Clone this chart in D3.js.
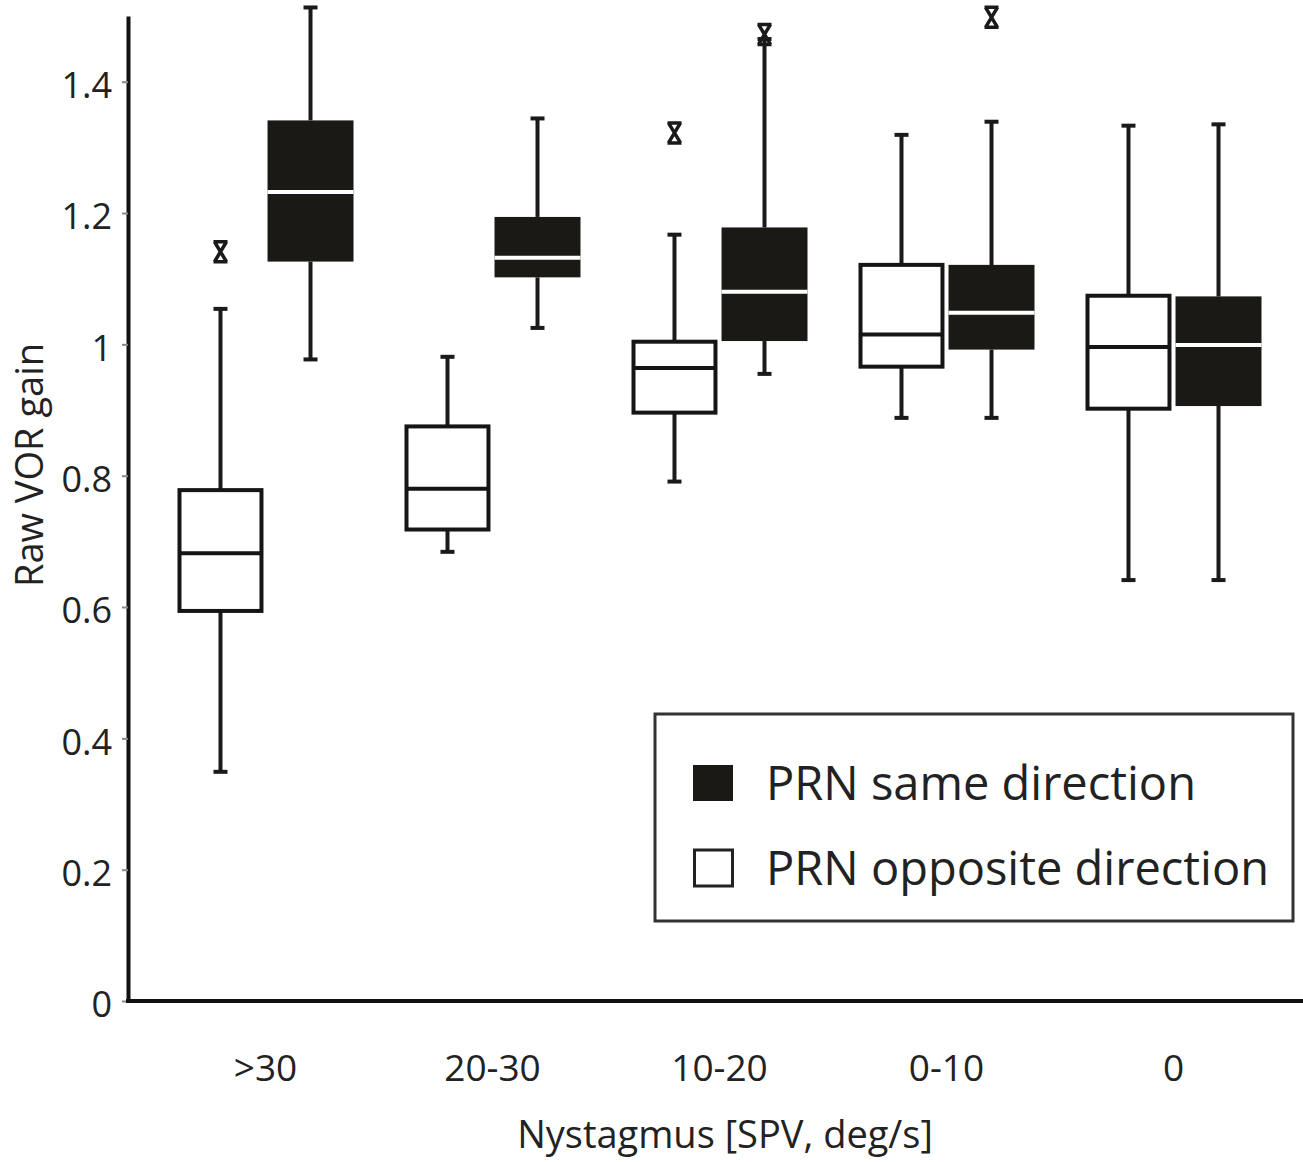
<!DOCTYPE html>
<html><head><meta charset="utf-8">
<script src="https://cdn.jsdelivr.net/npm/d3@7"></script>
<style>
body{margin:0;background:#fff}
text{font-family:"Open Sans",sans-serif;fill:#222}
</style>
</head><body>
<svg id="chart" width="1303" height="1162"></svg>
<script>
// ---- data ----
const groups = [">30", "20-30", "10-20", "0-10", "0"];
const seriesKeys = ["opposite", "same"];
const seriesLabels = ["PRN same direction", "PRN opposite direction"];

// PRN opposite direction (white boxes)
const oppLow    = [0.349, 0.684, 0.791, 0.888, 0.641];
const oppQ1     = [0.594, 0.718, 0.896, 0.966, 0.902];
const oppMedian = [0.682, 0.780, 0.964, 1.015, 0.996];
const oppQ3     = [0.778, 0.875, 1.004, 1.121, 1.074];
const oppHigh   = [1.054, 0.981, 1.167, 1.319, 1.333];
const oppOutliers = [[1.141], [], [1.322], [], []];

// PRN same direction (black boxes)
const sameLow    = [0.977, 1.025, 0.955, 0.888, 0.641];
const sameQ1     = [1.126, 1.102, 1.005, 0.992, 0.906];
const sameMedian = [1.232, 1.132, 1.080, 1.048, 0.999];
const sameQ3     = [1.341, 1.194, 1.178, 1.121, 1.073];
const sameHigh   = [1.513, 1.344, 1.465, 1.339, 1.335];
const sameOutliers = [[], [], [1.472], [1.498], []];

const yTickValues = [0, 0.2, 0.4, 0.6, 0.8, 1, 1.2, 1.4];
const yTickLabels = ["0", "0.2", "0.4", "0.6", "0.8", "1", "1.2", "1.4"];
const yTitle = "Raw VOR gain";
const xTitle = "Nystagmus [SPV, deg/s]";

// ---- build ----
const BLACK = "#1b1915";
const svg = d3.select("#chart");
svg.append("rect").attr("width", 1303).attr("height", 1162).attr("fill", "#fff");

const y = d3.scaleLinear().domain([0, 1.5]).range([1001, 16]);
const x = d3.scaleBand().domain(groups).range([152, 1287]).padding(0);
const x1 = d3.scaleBand().domain(seriesKeys).range([-88, 88]).paddingInner(0.045);

const boxes = [];
groups.forEach((g, i) => {
  boxes.push({g, s: "opposite", low: oppLow[i], q1: oppQ1[i], med: oppMedian[i], q3: oppQ3[i], high: oppHigh[i], out: oppOutliers[i]});
  boxes.push({g, s: "same", low: sameLow[i], q1: sameQ1[i], med: sameMedian[i], q3: sameQ3[i], high: sameHigh[i], out: sameOutliers[i]});
});

const bw = x1.bandwidth();
const cx = d => x(d.g) + x.bandwidth() / 2 + x1(d.s) + bw / 2;
const capW = 14;

const bg = svg.append("g");
boxes.forEach(d => {
  const c = cx(d);
  const g = bg.append("g");
  const wc = "#1a1a1a";
  g.append("line").attr("x1", c).attr("x2", c).attr("y1", y(d.q3)).attr("y2", y(d.high))
    .attr("stroke", wc).attr("stroke-width", 4);
  g.append("line").attr("x1", c).attr("x2", c).attr("y1", y(d.q1)).attr("y2", y(d.low))
    .attr("stroke", wc).attr("stroke-width", 4);
  g.append("line").attr("x1", c - capW / 2).attr("x2", c + capW / 2).attr("y1", y(d.high)).attr("y2", y(d.high))
    .attr("stroke", wc).attr("stroke-width", 4);
  g.append("line").attr("x1", c - capW / 2).attr("x2", c + capW / 2).attr("y1", y(d.low)).attr("y2", y(d.low))
    .attr("stroke", wc).attr("stroke-width", 4);
  if (d.s === "same") {
    g.append("rect").attr("x", c - bw / 2).attr("width", bw)
      .attr("y", y(d.q3)).attr("height", y(d.q1) - y(d.q3)).attr("fill", BLACK);
    g.append("line").attr("x1", c - bw / 2).attr("x2", c + bw / 2).attr("y1", y(d.med)).attr("y2", y(d.med))
      .attr("stroke", "#fff").attr("stroke-width", 4);
  } else {
    g.append("rect").attr("x", c - bw / 2 + 2).attr("width", bw - 4)
      .attr("y", y(d.q3)).attr("height", y(d.q1) - y(d.q3))
      .attr("fill", "#fff").attr("stroke", "#151515").attr("stroke-width", 4);
    g.append("line").attr("x1", c - bw / 2 + 2).attr("x2", c + bw / 2 - 2).attr("y1", y(d.med)).attr("y2", y(d.med))
      .attr("stroke", "#151515").attr("stroke-width", 4);
  }
  d.out.forEach(v => {
    g.append("path")
      .attr("transform", `translate(${c},${y(v)})`)
      .attr("d", "M-7,-10H7M-7,10H7M-6,-10L6,10M6,-10L-6,10")
      .attr("fill", "none").attr("stroke", "#1a1a1a").attr("stroke-width", 3.5);
  });
});

// y axis
const yAxis = svg.append("g").attr("transform", "translate(128,0)")
  .call(d3.axisLeft(y).tickValues(yTickValues).tickFormat((d, i) => yTickLabels[i])
    .tickSize(6).tickSizeOuter(0).tickPadding(10));
yAxis.select(".domain").attr("stroke", "#111").attr("stroke-width", 4);
yAxis.selectAll(".tick line").attr("stroke", "#888").attr("stroke-width", 2);
yAxis.selectAll(".tick text").attr("font-size", 36).attr("dy", "0.44em")
  .style("font-family", "'Open Sans', sans-serif").attr("fill", "#222");

// x axis
const xAxis = svg.append("g").attr("transform", "translate(0,1001)")
  .call(d3.axisBottom(x).tickSize(0).tickSizeOuter(0));
xAxis.select(".domain").remove();
xAxis.selectAll(".tick text").attr("font-size", 37).attr("y", 80).attr("dy", 0)
  .style("font-family", "'Open Sans', sans-serif").attr("fill", "#222");
svg.append("line").attr("x1", 126).attr("x2", 1303).attr("y1", y(0)).attr("y2", y(0))
  .attr("stroke", "#111").attr("stroke-width", 4);

// titles
svg.append("text").attr("transform", "translate(43,465) rotate(-90)")
  .attr("text-anchor", "middle").attr("font-size", 38).text(yTitle);
svg.append("text").attr("x", 725).attr("y", 1148)
  .attr("text-anchor", "middle").attr("font-size", 38).text(xTitle);

// legend
const lg = svg.append("g");
lg.append("rect").attr("x", 655).attr("y", 714).attr("width", 638).attr("height", 207)
  .attr("fill", "#fff").attr("stroke", "#333").attr("stroke-width", 3);
const legendItems = [
  {label: seriesLabels[0], fill: BLACK, stroke: "none", yy: 765},
  {label: seriesLabels[1], fill: "#fff", stroke: "#222", yy: 850}
];
legendItems.forEach(it => {
  lg.append("rect").attr("x", it.stroke === "none" ? 693 : 694.5).attr("y", it.yy)
    .attr("width", it.stroke === "none" ? 40 : 38).attr("height", 36)
    .attr("fill", it.fill).attr("stroke", it.stroke).attr("stroke-width", 3);
  lg.append("text").attr("x", 766).attr("y", it.yy + 35).attr("font-size", 47).text(it.label);
});
</script>
</body></html>
